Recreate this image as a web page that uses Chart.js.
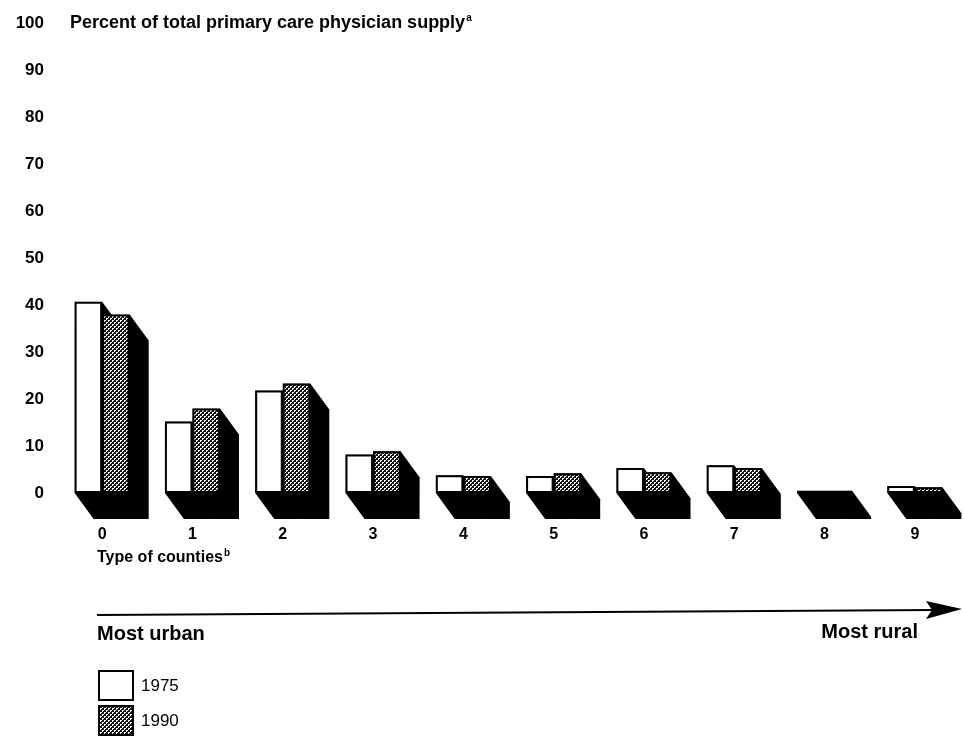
<!DOCTYPE html>
<html>
<head>
<meta charset="utf-8">
<title>Primary care physician supply</title>
<script src="https://cdn.jsdelivr.net/npm/chart.js@4.4.1/dist/chart.umd.min.js"></script>
<style>
    body { margin: 0; background: #fff; }
    #grafico { display: block; }
</style>
</head>
<body>
<canvas id="grafico" width="964" height="737"></canvas>
<script>
// data
const categories = ['0', '1', '2', '3', '4', '5', '6', '7', '8', '9'];
const seriesLabels = ['1975', '1990'];
const values1975 = [40.7, 15.2, 21.8, 8.2, 3.8, 3.6, 5.3, 5.9, 0.5, 1.5];
const values1990 = [38.0, 18.0, 23.3, 8.9, 3.6, 4.2, 4.4, 5.3, 0.5, 1.2];
const yMin = 0;
const yMax = 100;
const yStep = 10;

const FONT = '"Liberation Sans", Arial, Helvetica, sans-serif';
const DEPTH_X = 19;
const DEPTH_Y = 26;

/*
 * Small tile used as the stippled grey fill of the 1990 bars.
 */
function criarPadrao() {
    var c = document.createElement('canvas');
    c.width = 4;
    c.height = 4;
    var g = c.getContext('2d');
    g.fillStyle = '#151515';
    g.fillRect(0, 0, 4, 4);
    g.fillStyle = '#ffffff';
    var pts = [[0, 0], [1, 0], [0, 1], [2, 2], [3, 2], [2, 3]];
    for (let p of pts) {
        g.fillRect(p[0], p[1], 1, 1);
    }
    return g.createPattern(c, 'repeat');
}

/*
 * Black depth (side and bottom faces) behind every bar.
 */
const extrusao = {
    id: 'extrusao',
    beforeDatasetsDraw(chart) {
        const ctx = chart.ctx;
        ctx.save();
        ctx.fillStyle = '#000';
        chart.data.datasets.forEach((ds, i) => {
            const meta = chart.getDatasetMeta(i);
            for (let el of meta.data) {
                const p = el.getProps(['x', 'y', 'base', 'width'], true);
                const xl = p.x - p.width / 2;
                const xr = p.x + p.width / 2;
                ctx.beginPath();
                ctx.moveTo(xl, p.y);
                ctx.lineTo(xr, p.y);
                ctx.lineTo(xr + DEPTH_X, p.y + DEPTH_Y);
                ctx.lineTo(xr + DEPTH_X, p.base + DEPTH_Y);
                ctx.lineTo(xl + DEPTH_X, p.base + DEPTH_Y);
                ctx.lineTo(xl, p.base);
                ctx.closePath();
                ctx.fill();
            }
        });
        ctx.restore();
    }
};

/*
 * Texts, arrow and legend drawn around the plot.
 */
const extras = {
    id: 'extras',
    afterDraw(chart) {
        const ctx = chart.ctx;
        const area = chart.chartArea;
        ctx.save();
        ctx.fillStyle = '#000';
        ctx.strokeStyle = '#000';
        ctx.textBaseline = 'middle';
        ctx.textAlign = 'left';

        // title next to the 100 tick
        var titulo = 'Percent of total primary care physician supply';
        ctx.font = 'bold 18px ' + FONT;
        ctx.fillText(titulo, 70, area.top);
        var w = ctx.measureText(titulo).width;
        ctx.font = 'bold 10px ' + FONT;
        ctx.fillText('a', 70 + w + 1, area.top - 5);

        // x axis title
        var xt = 'Type of counties';
        ctx.font = 'bold 16px ' + FONT;
        ctx.fillText(xt, 97, 558);
        w = ctx.measureText(xt).width;
        ctx.font = 'bold 10px ' + FONT;
        ctx.fillText('b', 97 + w + 1, 553);

        // arrow from urban to rural
        ctx.lineWidth = 2;
        ctx.beginPath();
        ctx.moveTo(97, 615);
        ctx.lineTo(935, 610);
        ctx.stroke();
        ctx.beginPath();
        ctx.moveTo(926, 601);
        ctx.lineTo(962, 609);
        ctx.lineTo(926, 619);
        ctx.lineTo(932, 610);
        ctx.closePath();
        ctx.fill();

        ctx.font = 'bold 20px ' + FONT;
        ctx.fillText('Most urban', 97, 634);
        ctx.textAlign = 'right';
        ctx.fillText('Most rural', 918, 632);

        // legend
        ctx.textAlign = 'left';
        ctx.font = '17px ' + FONT;
        chart.data.datasets.forEach((ds, i) => {
            const y = 670 + i * 35;
            ctx.fillStyle = ds.backgroundColor;
            ctx.fillRect(98, y, 36, 31);
            ctx.lineWidth = 2;
            ctx.strokeRect(99, y + 1, 34, 29);
            ctx.fillStyle = '#000';
            ctx.fillText(ds.label, 141, y + 16);
        });
        ctx.restore();
    }
};

const cinza = criarPadrao();

const grafico = new Chart(document.getElementById('grafico'), {
    type: 'bar',
    data: {
        labels: categories,
        datasets: [{
                label: seriesLabels[0],
                data: values1975,
                backgroundColor: '#ffffff',
                borderColor: '#000000',
                borderWidth: 2,
                borderSkipped: false
            }, {
                label: seriesLabels[1],
                data: values1990,
                backgroundColor: cinza,
                borderColor: '#000000',
                borderWidth: 2,
                borderSkipped: false
            }]
    },
    options: {
        responsive: false,
        animation: false,
        barPercentage: 1,
        categoryPercentage: 0.61,
        layout: {
            padding: {top: 20, right: 4, bottom: 194, left: 0}
        },
        plugins: {
            legend: {display: false},
            tooltip: {enabled: false}
        },
        scales: {
            x: {
                grid: {display: false},
                border: {display: false},
                ticks: {
                    color: '#000',
                    font: {family: FONT, size: 16, weight: 'bold'},
                    padding: 24,
                    maxRotation: 0
                },
                afterFit: function (scale) {
                    scale.height = 50;
                }
            },
            y: {
                min: yMin,
                max: yMax,
                grid: {display: false, drawTicks: false},
                border: {display: false},
                ticks: {
                    stepSize: yStep,
                    color: '#000',
                    font: {family: FONT, size: 17, weight: 'bold'},
                    padding: 13
                },
                afterFit: function (scale) {
                    scale.width = 57;
                }
            }
        }
    },
    plugins: [extrusao, extras]
});
</script>
</body>
</html>
